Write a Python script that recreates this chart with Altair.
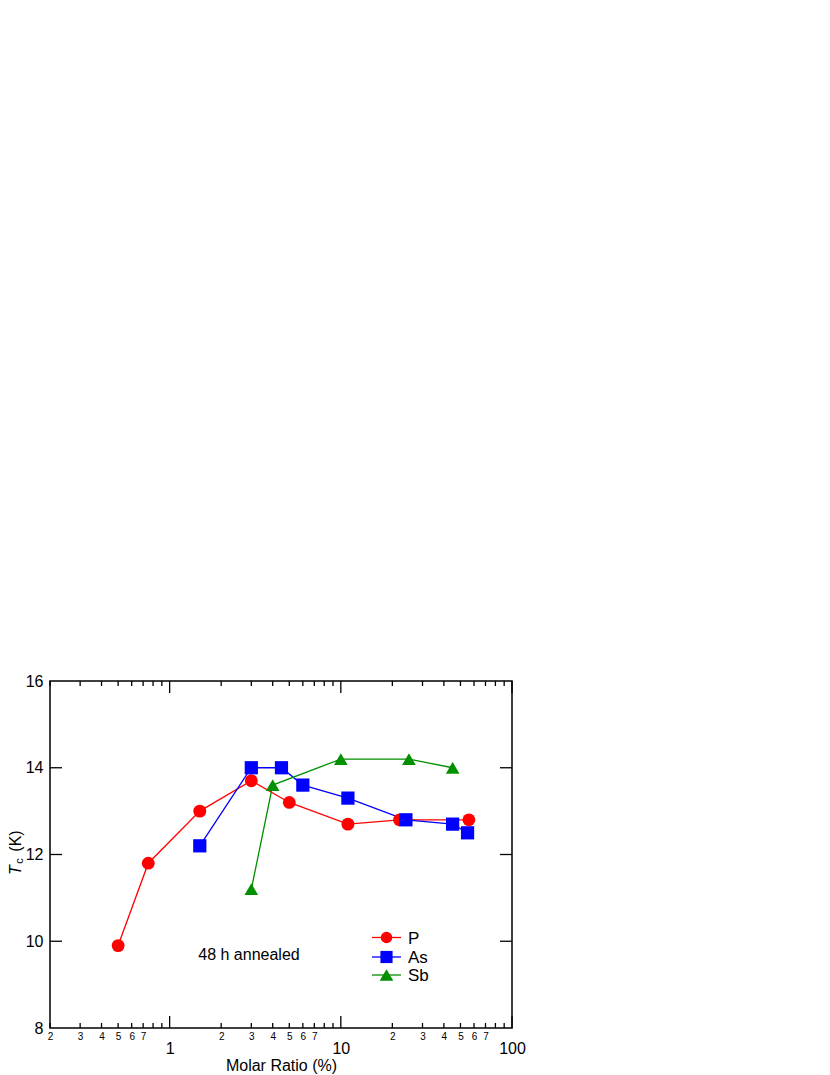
import altair as alt
import pandas as pd

# ---------------- data ----------------
series_names = ["P", "As", "Sb"]
p_x = [0.5, 0.75, 1.5, 3, 5, 11, 22, 56]
p_y = [9.9, 11.8, 13.0, 13.7, 13.2, 12.7, 12.8, 12.8]
as_x = [1.5, 3, 4.5, 6, 11, 24, 45, 55]
as_y = [12.2, 14.0, 14.0, 13.6, 13.3, 12.8, 12.7, 12.5]
sb_x = [3, 4, 10, 25, 45]
sb_y = [11.2, 13.6, 14.2, 14.2, 14.0]

colors = ["#ff0000", "#0000ff", "#009000"]
shapes = ["circle", "square", "triangle-up"]
sizes = [165, 185, 230]

minor_x_ticks = [0.2, 0.3, 0.4, 0.5, 0.6, 0.7, 0.8, 0.9,
                 2, 3, 4, 5, 6, 7, 8, 9,
                 20, 30, 40, 50, 60, 70, 80, 90]
major_x_ticks = [1, 10, 100]
x_label_values = [0.2, 0.3, 0.4, 0.5, 0.6, 0.7, 1,
                  2, 3, 4, 5, 6, 7, 10,
                  20, 30, 40, 50, 60, 70, 100]
y_label_values = [8, 10, 12, 14, 16]
y_tick_values = [10, 12, 14]
x_domain = [0.2, 100]
y_domain = [8, 16]

annotation = "48 h annealed"
x_title = "Molar Ratio (%)"

# ---------------- tables ----------------
rows = []
for name, xs, ys in [("P", p_x, p_y), ("As", as_x, as_y), ("Sb", sb_x, sb_y)]:
    for i, (a, b) in enumerate(zip(xs, ys)):
        rows.append({"series": name, "x": a, "y": b, "idx": i})
df = pd.DataFrame(rows)

W, H = 462, 347
FONT = "Liberation Sans"

major_test = "datum.value == 1 || datum.value == 10 || datum.value == 100"
label_expr = (f"({major_test}) ? format(datum.value, 'd') : "
              "format(round(datum.value / pow(10, floor(log(datum.value) / LN10 + 1e-9))), 'd')")

x_axis = alt.Axis(
    values=x_label_values, labelExpr=label_expr, ticks=False, tickSize=0,
    domain=False, grid=False, labelOverlap=False, labelFlush=False, labelBound=False,
    labelFontSize={"condition": {"test": major_test, "value": 16}, "value": 10},
    labelPadding={"condition": {"test": major_test, "value": 12}, "value": 3},
    labelFont=FONT, labelColor="black",
    title=x_title, titleFont=FONT, titleFontSize=16, titleFontWeight="normal",
    titleColor="black", titlePadding=1,
)
y_axis = alt.Axis(
    values=y_label_values, ticks=False, tickSize=0, domain=False, grid=False,
    labelFontSize=16, labelFont=FONT, labelColor="black", labelPadding=7,
    labelOverlap=False, labelFlush=False, labelBound=False, title=None,
)

def X():
    return alt.X("x:Q", scale=alt.Scale(type="log", domain=x_domain), axis=x_axis)

def Y():
    return alt.Y("y:Q", scale=alt.Scale(domain=y_domain), axis=y_axis)

color_scale = alt.Scale(domain=series_names, range=colors)

lines = alt.Chart(df).mark_line(strokeWidth=1.3).encode(
    x=X(), y=Y(),
    color=alt.Color("series:N", scale=color_scale, legend=None),
    order="idx:Q",
)
points = alt.Chart(df).mark_point(filled=True, opacity=1).encode(
    x=X(), y=Y(),
    color=alt.Color("series:N", scale=color_scale, legend=None),
    shape=alt.Shape("series:N", scale=alt.Scale(domain=series_names, range=shapes), legend=None),
    size=alt.Size("series:N", scale=alt.Scale(domain=series_names, range=sizes), legend=None),
)

# ---------------- inward ticks ----------------
minor_df = pd.DataFrame({"x": minor_x_ticks})
major_df = pd.DataFrame({"x": major_x_ticks})
ytick_df = pd.DataFrame({"y": y_tick_values})
rule_style = dict(color="black", strokeWidth=1.3)

ticks = [
    alt.Chart(minor_df).mark_rule(**rule_style).encode(x=X(), y=alt.value(H - 5), y2=alt.value(H)),
    alt.Chart(minor_df).mark_rule(**rule_style).encode(x=X(), y=alt.value(0), y2=alt.value(5)),
    alt.Chart(major_df).mark_rule(**rule_style).encode(x=X(), y=alt.value(H - 12), y2=alt.value(H)),
    alt.Chart(major_df).mark_rule(**rule_style).encode(x=X(), y=alt.value(0), y2=alt.value(12)),
    alt.Chart(ytick_df).mark_rule(**rule_style).encode(y=Y(), x=alt.value(0), x2=alt.value(12)),
    alt.Chart(ytick_df).mark_rule(**rule_style).encode(y=Y(), x=alt.value(W - 12), x2=alt.value(W)),
]

# ---------------- legend (inside plot) ----------------
leg_df = pd.DataFrame({"series": series_names, "row": [0, 1, 2]})
leg_rows_y = [256.5, 276, 294]
legend_layers = []
for name, col, shp, sz, ly in zip(series_names, colors, shapes, sizes, leg_rows_y):
    sub = leg_df[leg_df.series == name]
    legend_layers.append(alt.Chart(sub).mark_rule(color=col, strokeWidth=1.3).encode(
        x=alt.value(322), x2=alt.value(351), y=alt.value(ly)))
    legend_layers.append(alt.Chart(sub).mark_point(filled=True, opacity=1, color=col, shape=shp,
                                                   size=sz * 0.8).encode(
        x=alt.value(336.5), y=alt.value(ly)))
    legend_layers.append(alt.Chart(sub).mark_text(align="left", baseline="middle", font=FONT, fontSize=17,
                                                  color="black").encode(
        x=alt.value(358), y=alt.value(ly + 1), text="series:N"))

# ---------------- text annotations ----------------
ann = alt.Chart(pd.DataFrame({"t": [annotation]})).mark_text(
    align="center", baseline="middle", font=FONT, fontSize=16, color="black"
).encode(x=alt.value(199), y=alt.value(274), text="t:N")

ytitle_T = alt.Chart(pd.DataFrame({"t": ["T"]})).mark_text(
    angle=270, align="center", baseline="middle", font=FONT, fontSize=16, fontStyle="italic", color="black"
).encode(x=alt.value(-34), y=alt.value(189), text="t:N")
ytitle_c = alt.Chart(pd.DataFrame({"t": ["c"]})).mark_text(
    angle=270, align="center", baseline="middle", font=FONT, fontSize=11, color="black"
).encode(x=alt.value(-30), y=alt.value(180), text="t:N")
ytitle_K = alt.Chart(pd.DataFrame({"t": ["(K)"]})).mark_text(
    angle=270, align="center", baseline="middle", font=FONT, fontSize=16, color="black"
).encode(x=alt.value(-34), y=alt.value(160), text="t:N")

chart = alt.layer(
    lines, points, *ticks, *legend_layers, ann, ytitle_T, ytitle_c, ytitle_K
).properties(
    width=W, height=H,
    autosize=alt.AutoSizeParams(type="none"),
    padding={"left": 42, "top": 673, "right": 20, "bottom": 60},
    background="white",
).configure_view(
    stroke="black", strokeWidth=1.5
)

chart.save("out.html", embed_options={"renderer": "svg", "actions": False})
